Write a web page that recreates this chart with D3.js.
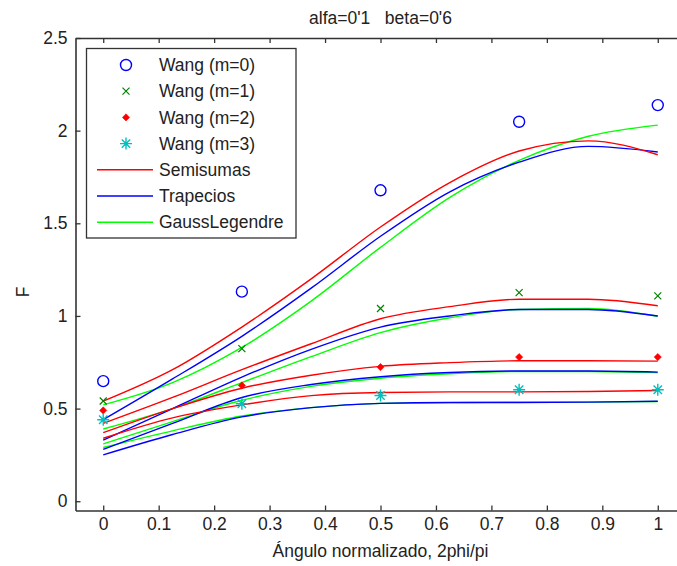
<!DOCTYPE html>
<html><head><meta charset="utf-8">
<script src="https://cdn.jsdelivr.net/npm/d3@7"></script>
<style>
html,body{margin:0;padding:0;background:#fff;}
text{font-family:"Liberation Sans",Arial,sans-serif;fill:#222;}
</style></head>
<body><svg id="c" width="677" height="566"></svg>
<script>
// ---- data ----
const title = "alfa=0'1   beta=0'6";
const xLabel = "Ángulo normalizado, 2phi/pi";
const yLabel = "F";
const xTicks = [0,0.1,0.2,0.3,0.4,0.5,0.6,0.7,0.8,0.9,1];
const yTicks = [0,0.5,1,1.5,2,2.5];

const wangX = [0, 0.25, 0.5, 0.75, 1];
const wangM0 = [0.648, 1.131, 1.678, 2.048, 2.138];
const wangM1 = [0.541, 0.824, 1.040, 1.126, 1.108];
const wangM2 = [0.490, 0.625, 0.724, 0.778, 0.778];
const wangM3 = [0.440, 0.526, 0.571, 0.602, 0.602];

const curveX = [0, 0.125, 0.25, 0.375, 0.5, 0.625, 0.75, 0.875, 1];
// m = 0
const semi0  = [0.54, 0.71, 0.94, 1.20, 1.48, 1.72, 1.89, 1.945, 1.87];
const trap0  = [0.44, 0.66, 0.89, 1.15, 1.43, 1.67, 1.83, 1.915, 1.885];
const gauss0 = [0.52, 0.64, 0.83, 1.08, 1.37, 1.64, 1.84, 1.97, 2.03];
// m = 1
const semi1  = [0.42, 0.56, 0.71, 0.85, 0.985, 1.05, 1.09, 1.09, 1.055];
const trap1  = [0.33, 0.50, 0.67, 0.82, 0.94, 1.00, 1.035, 1.035, 1.00];
const gauss1 = [0.39, 0.50, 0.64, 0.78, 0.91, 0.99, 1.035, 1.04, 0.998];
// m = 2
const semi2  = [0.37, 0.50, 0.61, 0.68, 0.728, 0.748, 0.758, 0.758, 0.756];
const trap2  = [0.28, 0.42, 0.56, 0.63, 0.672, 0.695, 0.703, 0.703, 0.697];
const gauss2 = [0.31, 0.43, 0.545, 0.62, 0.664, 0.688, 0.700, 0.700, 0.694];
// m = 3
const semi3  = [0.34, 0.45, 0.52, 0.57, 0.587, 0.590, 0.590, 0.592, 0.598];
const trap3  = [0.25, 0.36, 0.455, 0.505, 0.528, 0.533, 0.533, 0.535, 0.540];
const gauss3 = [0.29, 0.38, 0.46, 0.505, 0.528, 0.532, 0.535, 0.535, 0.538];

const legendLabels = ["Wang (m=0)","Wang (m=1)","Wang (m=2)","Wang (m=3)","Semisumas","Trapecios","GaussLegendre"];

// ---- drawing ----
const svg = d3.select("#c");
const L = 75.5, R = 685.5, T = 38, B = 510.5;
const x = d3.scaleLinear().domain([-0.05, 1.05]).range([L, R]);
const y = d3.scaleLinear().domain([-0.05, 2.5]).range([B, T]);
const axisCol = "#333";
const fs = 17.5;

svg.append("defs").append("clipPath").attr("id","clip")
  .append("rect").attr("x",L).attr("y",T).attr("width",R-L).attr("height",B-T);

// axes (MATLAB style box with inward ticks)
const gx = svg.append("g").attr("transform",`translate(0,${B})`)
  .call(d3.axisBottom(x).tickValues(xTicks).tickSizeInner(-5).tickSizeOuter(0).tickPadding(7).tickFormat(d3.format("")));
const gxt = svg.append("g").attr("transform",`translate(0,${T})`)
  .call(d3.axisTop(x).tickValues(xTicks).tickSizeInner(-5).tickSizeOuter(0).tickFormat(""));
const gy = svg.append("g").attr("transform",`translate(${L},0)`)
  .call(d3.axisLeft(y).tickValues(yTicks).tickSizeInner(-5).tickSizeOuter(0).tickPadding(8).tickFormat(d3.format("")));
[gx,gxt,gy].forEach(g=>{
  g.selectAll("path.domain").attr("stroke",axisCol).attr("stroke-width",1.6);
  g.selectAll(".tick line").attr("stroke",axisCol).attr("stroke-width",1.3);
  g.selectAll(".tick text").attr("font-size",fs).attr("font-family","Liberation Sans, Arial, sans-serif").attr("fill","#222");
});
gx.selectAll(".tick text").attr("dy","0.71em");

const plot = svg.append("g").attr("clip-path","url(#clip)");

const line = d3.line().x((d,i)=>x(curveX[i])).y(d=>y(d)).curve(d3.curveMonotoneX);
const groups = [
  [semi0, trap0, gauss0],
  [semi1, trap1, gauss1],
  [semi2, trap2, gauss2],
  [semi3, trap3, gauss3]
];
const lineCols = ["#ff0000","#0000ff","#00ff00"];
[2,1,0].forEach(k=>{
  groups.forEach(g=>{
    plot.append("path").attr("d", line(g[k])).attr("fill","none")
      .attr("stroke", lineCols[k]).attr("stroke-width",1.4);
  });
});

// markers
function circleM(g, cx, cy){ g.append("circle").attr("cx",cx).attr("cy",cy).attr("r",5.5).attr("fill","none").attr("stroke","#0000ff").attr("stroke-width",1.4); }
function crossM(g, cx, cy){ const s=3.5; g.append("path").attr("d",`M${cx-s},${cy-s}L${cx+s},${cy+s}M${cx-s},${cy+s}L${cx+s},${cy-s}`).attr("stroke","#008000").attr("stroke-width",1.2).attr("fill","none"); }
function dotM(g, cx, cy){ const s=3.6; g.append("path").attr("d",`M${cx},${cy-s}L${cx+s},${cy}L${cx},${cy+s}L${cx-s},${cy}Z`).attr("fill","#ff0000").attr("stroke","#ff0000").attr("stroke-width",0.6); }
function starM(g, cx, cy){ const s=6, d=4.2; g.append("path").attr("d",`M${cx-s},${cy}L${cx+s},${cy}M${cx},${cy-s}L${cx},${cy+s}M${cx-d},${cy-d}L${cx+d},${cy+d}M${cx-d},${cy+d}L${cx+d},${cy-d}`).attr("stroke","#00bfbf").attr("stroke-width",1.4).attr("fill","none"); }

const mk = svg.append("g");
wangX.forEach((xv,i)=>{
  circleM(mk, x(xv), y(wangM0[i]));
  crossM(mk, x(xv), y(wangM1[i]));
  dotM(mk, x(xv), y(wangM2[i]));
  starM(mk, x(xv), y(wangM3[i]));
});

// legend
const lg = svg.append("g");
lg.append("rect").attr("x",86.5).attr("y",48.5).attr("width",209.5).attr("height",189.5)
  .attr("fill","#fff").attr("stroke",axisCol).attr("stroke-width",1.3);
const rowY = i => 65 + i*26.2;
const mfun = [circleM, crossM, dotM, starM];
legendLabels.forEach((lab,i)=>{
  const yy = rowY(i);
  if(i<4){ mfun[i](lg, 126, yy); }
  else { lg.append("line").attr("x1",97).attr("x2",153).attr("y1",yy).attr("y2",yy).attr("stroke",lineCols[i-4]).attr("stroke-width",1.4); }
  lg.append("text").attr("x",159).attr("y",yy).attr("dy","0.35em").attr("font-size",fs).text(lab);
});

// title and labels
svg.append("text").attr("x",(L+R)/2).attr("y",18).attr("dy","0.35em").attr("text-anchor","middle")
  .attr("font-size",fs).style("white-space","pre").attr("xml:space","preserve").text(title);
svg.append("text").attr("x",(L+R)/2).attr("y",551).attr("dy","0.35em").attr("text-anchor","middle")
  .attr("font-size",fs).text(xLabel);
svg.append("text").attr("transform","translate(23,292) rotate(-90)").attr("dy","0.35em").attr("text-anchor","middle")
  .attr("font-size",fs).text(yLabel);
</script></body></html>
